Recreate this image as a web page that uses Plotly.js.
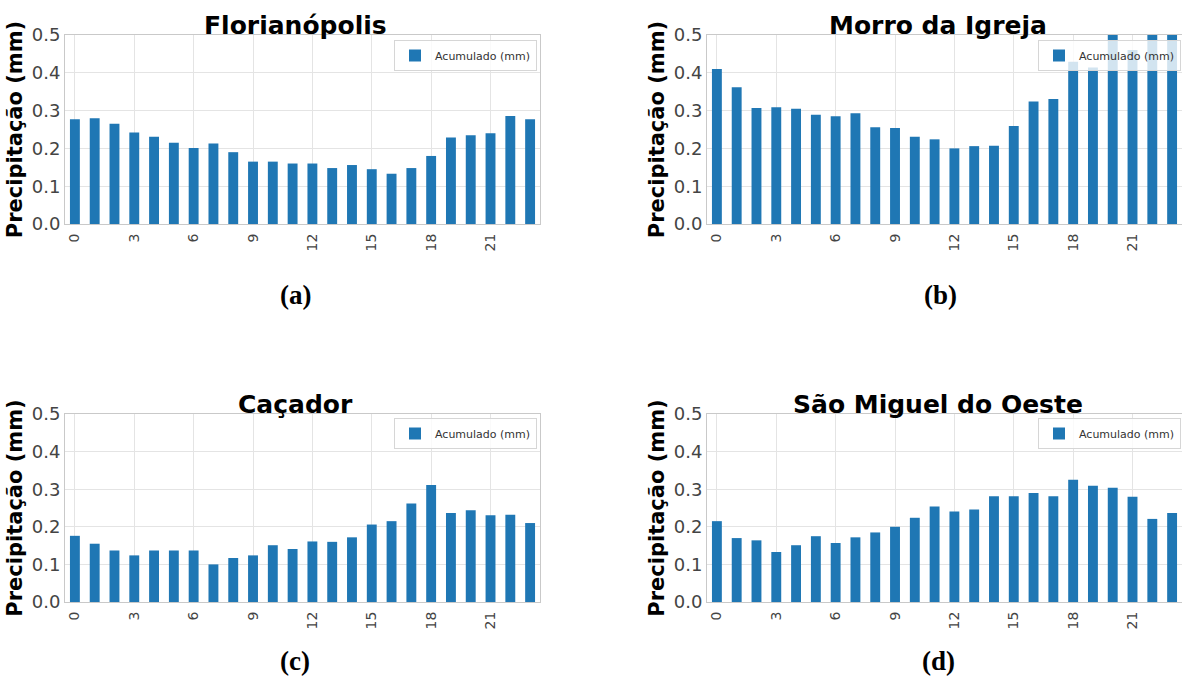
<!DOCTYPE html>
<html>
<head>
<meta charset="utf-8">
<script src="https://cdn.plot.ly/plotly-3.0.1.min.js"></script>
<style>
html, body { margin: 0; padding: 0; background: #ffffff; }
#chart { width: 1182px; height: 691px; }
</style>
</head>
<body>
<div id="chart"></div>
<script>
// ---- Data ----
const hours = [0, 1, 2, 3, 4, 5, 6, 7, 8, 9, 10, 11, 12, 13, 14, 15, 16, 17, 18, 19, 20, 21, 22, 23];
const florianopolis = [0.277, 0.280, 0.265, 0.242, 0.231, 0.215, 0.201, 0.213, 0.190, 0.165, 0.165, 0.160,
                       0.160, 0.148, 0.156, 0.145, 0.133, 0.148, 0.180, 0.229, 0.235, 0.240, 0.286, 0.277];
const morroDaIgreja = [0.410, 0.362, 0.307, 0.309, 0.305, 0.289, 0.285, 0.293, 0.256, 0.254, 0.231, 0.224,
                       0.200, 0.206, 0.207, 0.259, 0.324, 0.331, 0.429, 0.414, 0.540, 0.460, 0.550, 0.530];
const cacador = [0.176, 0.155, 0.137, 0.124, 0.137, 0.137, 0.137, 0.100, 0.117, 0.124, 0.151, 0.141,
                 0.161, 0.160, 0.172, 0.206, 0.215, 0.262, 0.311, 0.237, 0.244, 0.231, 0.232, 0.210];
const saoMiguelDoOeste = [0.215, 0.170, 0.164, 0.133, 0.151, 0.175, 0.157, 0.172, 0.185, 0.200, 0.224, 0.254,
                          0.241, 0.246, 0.281, 0.281, 0.290, 0.281, 0.325, 0.309, 0.304, 0.280, 0.221, 0.237];
const stationNames = ['Florianópolis', 'Morro da Igreja', 'Caçador', 'São Miguel do Oeste'];
const panelLabels = ['(a)', '(b)', '(c)', '(d)'];
const xTickVals = [0, 3, 6, 9, 12, 15, 18, 21];
const xTickText = ['0', '3', '6', '9', '12', '15', '18', '21'];
const yTickVals = [0.0, 0.1, 0.2, 0.3, 0.4, 0.5];
const yTickText = ['0.0', '0.1', '0.2', '0.3', '0.4', '0.5'];
const seriesName = 'Acumulado (mm)';
const yAxisTitle = 'Precipitação (mm)';

// ---- Layout geometry (pixels) ----
const W = 1182, H = 691;
const panels = [
  { l: 65,  r: 540,  t: 35,  b: 224, titleX: 295, labelX: 295, labelY: 295 },
  { l: 707, r: 1182, t: 35,  b: 224, titleX: 938, labelX: 940, labelY: 295 },
  { l: 65,  r: 540,  t: 414, b: 602, titleX: 295, labelX: 295, labelY: 661 },
  { l: 707, r: 1182, t: 414, b: 602, titleX: 938, labelX: 938, labelY: 661 }
];
const legendRight = [537, 1181, 537, 1181];
const legendTop = [40, 40, 418, 418];

const series = [florianopolis, morroDaIgreja, cacador, saoMiguelDoOeste];
const px = v => v / W;
const py = v => 1 - v / H;

const barColor = '#1f77b4';
const gridColor = '#e4e4e4';
const frameColor = '#c9c9c9';
const tickColor = '#444444';
const baseFont = 'DejaVu Sans, Verdana, sans-serif';

const data = [];
const layout = {
  width: W, height: H,
  margin: { l: 0, r: 0, t: 0, b: 0 },
  paper_bgcolor: '#ffffff',
  plot_bgcolor: '#ffffff',
  showlegend: true,
  annotations: [],
  font: { family: baseFont, color: tickColor }
};

series.forEach((vals, i) => {
  const n = i + 1;
  const xa = n === 1 ? 'xaxis' : 'xaxis' + n;
  const ya = n === 1 ? 'yaxis' : 'yaxis' + n;
  const lg = n === 1 ? 'legend' : 'legend' + n;
  const p = panels[i];

  data.push({
    type: 'bar',
    x: hours,
    y: vals,
    width: 0.5,
    name: seriesName,
    marker: { color: barColor, line: { width: 0 } },
    xaxis: 'x' + (n === 1 ? '' : n),
    yaxis: 'y' + (n === 1 ? '' : n),
    legend: lg,
    hoverinfo: 'x+y'
  });

  layout[xa] = {
    domain: [px(p.l), px(p.r)],
    anchor: 'y' + (n === 1 ? '' : n),
    range: [-0.5, 23.5],
    tickmode: 'array',
    tickvals: xTickVals,
    ticktext: xTickText,
    tickangle: -90,
    ticks: '',
    ticklabelstandoff: 3,
    tickfont: { family: baseFont, size: 14, color: tickColor },
    showgrid: true,
    gridcolor: gridColor,
    gridwidth: 1,
    zeroline: false,
    showline: true,
    mirror: true,
    linecolor: frameColor,
    linewidth: 1,
    fixedrange: true
  };

  layout[ya] = {
    domain: [py(p.b), py(p.t)],
    anchor: 'x' + (n === 1 ? '' : n),
    range: [0, 0.5],
    tickmode: 'array',
    tickvals: yTickVals,
    ticktext: yTickText,
    ticks: '',
    ticklabelstandoff: 0,
    tickfont: { family: baseFont, size: 18, color: tickColor },
    showgrid: true,
    gridcolor: gridColor,
    gridwidth: 1,
    zeroline: false,
    showline: true,
    mirror: true,
    linecolor: frameColor,
    linewidth: 1,
    fixedrange: true,
    title: {
      text: yAxisTitle,
      standoff: 3,
      font: { family: baseFont, size: 21, weight: 'bold', color: '#000000' }
    }
  };

  layout[lg] = {
    x: px(legendRight[i]),
    y: py(legendTop[i]),
    xanchor: 'right',
    yanchor: 'top',
    xref: 'paper',
    yref: 'paper',
    bgcolor: 'rgba(255,255,255,0.8)',
    bordercolor: '#d6d6d6',
    borderwidth: 1,
    font: { family: baseFont, size: 11, color: '#333333' }
  };

  layout.annotations.push({
    text: stationNames[i],
    xref: 'paper', yref: 'paper',
    x: px(p.titleX), y: py(p.t - 10),
    xanchor: 'center', yanchor: 'middle',
    showarrow: false,
    font: { family: baseFont, size: 25, weight: 'bold', color: '#000000' }
  });

  layout.annotations.push({
    text: panelLabels[i],
    xref: 'paper', yref: 'paper',
    x: px(p.labelX), y: py(p.labelY),
    xanchor: 'center', yanchor: 'middle',
    showarrow: false,
    font: { family: 'Liberation Serif, Times New Roman, serif', size: 27, weight: 'bold', color: '#000000' }
  });
});

Plotly.newPlot('chart', data, layout, { displayModeBar: false, staticPlot: true });
</script>
</body>
</html>
